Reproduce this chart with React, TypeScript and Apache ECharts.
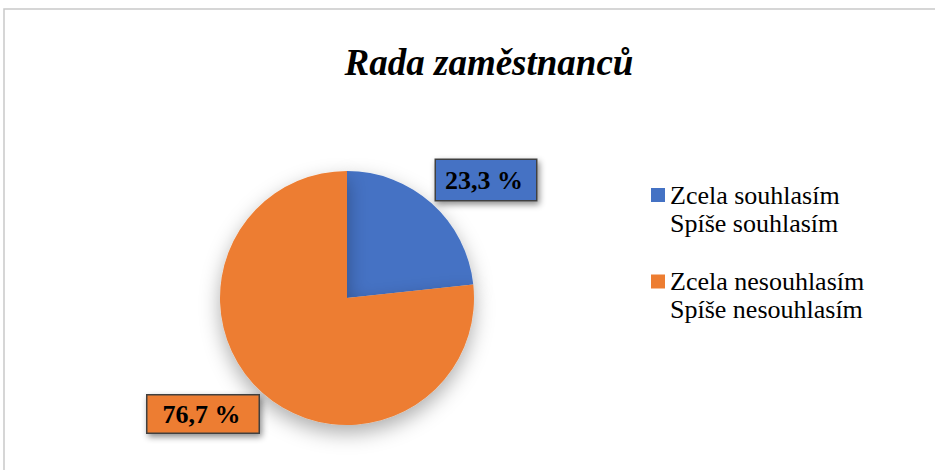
import React, { useEffect, useRef } from "react";
import * as echarts from "echarts";

const chartTitle = "Rada zaměstnanců";
const categories = ["Zcela souhlasím\nSpíše souhlasím", "Zcela nesouhlasím\nSpíše nesouhlasím"];
const values = [23.3, 76.7];
const colors = ["#4472C4", "#ED7D31"];

const labelCenters = [
  [486, 180],
  [203, 414],
];
const labelPaddings = [
  [6, 13, 6, 9],
  [5, 18, 4, 15],
];

export default function App() {
  const ref = useRef<HTMLDivElement>(null);
  useEffect(() => {
    if (!ref.current) return;
    const chart = echarts.init(ref.current, null, { renderer: "svg" });
    const serif = "Liberation Serif";
    const legendX = 651;
    const legendY0 = 195;
    const legendStep = 86.5;
    const legendGraphics: any[] = [];
    categories.forEach((name, i) => {
      const cy = legendY0 + i * legendStep;
      legendGraphics.push({
        type: "rect",
        shape: { x: legendX, y: cy - 7, width: 14, height: 14 },
        style: { fill: colors[i] },
        silent: true,
      });
      legendGraphics.push({
        type: "text",
        x: legendX + 19,
        y: cy - 14,
        silent: true,
        style: {
          text: name,
          fontFamily: serif,
          fontSize: 26,
          lineHeight: 28,
          fill: "#000000",
          align: "left",
          verticalAlign: "top",
        },
      });
    });
    chart.setOption({
      animation: false,
      backgroundColor: "#ffffff",
      title: {
        text: chartTitle,
        left: 489,
        top: 44,
        textAlign: "center",
        padding: 0,
        textStyle: {
          fontFamily: serif,
          fontSize: 37,
          fontWeight: "bold",
          fontStyle: "italic",
          color: "#000000",
        },
      },
      graphic: [
        {
          type: "rect",
          shape: { x: 4, y: 9, width: 1000, height: 500 },
          style: { fill: "none", stroke: "#c9c9c9", lineWidth: 1.5 },
          silent: true,
          z: -10,
        },
        ...legendGraphics,
      ],
      series: [
        {
          type: "pie",
          center: [347, 298],
          radius: 127,
          startAngle: 90,
          clockwise: true,
          silent: true,
          emphasis: { disabled: true },
          labelLine: { show: false },
          itemStyle: {
            shadowBlur: 20,
            shadowColor: "rgba(0,0,0,0.32)",
            shadowOffsetY: 8,
          },
          label: {
            show: true,
            position: "outside",
            fontFamily: serif,
            fontSize: 26,
            fontWeight: "bold",
            color: "#000000",
            lineHeight: 28,
            borderColor: "#404040",
            borderWidth: 1.5,
            shadowBlur: 6,
            shadowColor: "rgba(0,0,0,0.45)",
            shadowOffsetX: 2,
            shadowOffsetY: 3,
            formatter: (p: any) => p.value.toFixed(1).replace(".", ",") + " %",
          },
          labelLayout: (p: any) => ({
            x: labelCenters[p.dataIndex][0],
            y: labelCenters[p.dataIndex][1],
            align: "center",
            verticalAlign: "middle",
          }),
          data: categories.map((name, i) => ({
            name,
            value: values[i],
            itemStyle: { color: colors[i] },
            label: { backgroundColor: colors[i], padding: labelPaddings[i] },
          })),
        },
      ],
    });
    return () => chart.dispose();
  }, []);
  return (
    <div
      ref={ref}
      style={{ position: "fixed", left: 0, top: 0, width: 935, height: 470 }}
    />
  );
}
